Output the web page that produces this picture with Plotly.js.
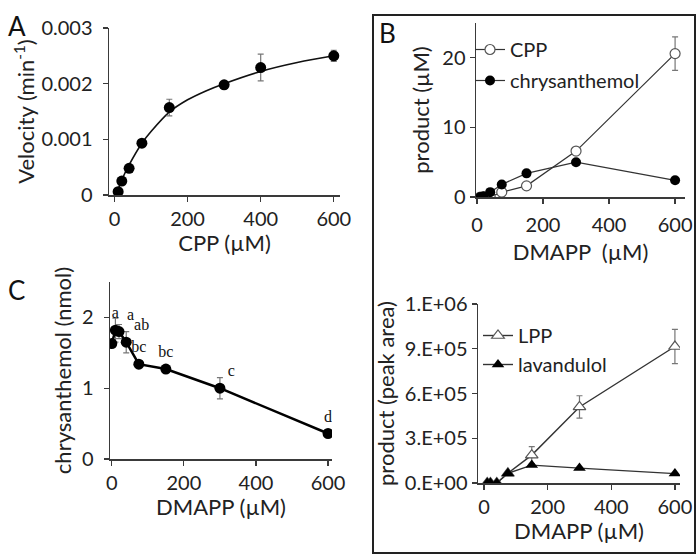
<!DOCTYPE html>
<html>
<head>
<meta charset="utf-8">
<script src="https://cdn.plot.ly/plotly-3.0.1.min.js"></script>
<style>html,body{margin:0;padding:0;background:#fff}#chart{width:700px;height:556px}</style>
</head>
<body>
<div id="chart"></div>
<script>
// ---- Panel A: velocity vs CPP ----
const cppConc = [10, 20, 40, 75, 150, 300, 400, 600];
const velocity = [0.00006, 0.00025, 0.00048, 0.00093, 0.00157, 0.00198, 0.00229, 0.0025];
const velocityErr = [0, 0, 0, 0, 0.00015, 0, 0.00024, 0.0001];
const fitConc = [10, 20, 40, 75, 100, 150, 200, 250, 300, 400, 500, 600];
const fitVelocity = [0.0001, 0.00027, 0.00054, 0.00093, 0.00114, 0.00149, 0.00171, 0.00187, 0.002, 0.00222, 0.00238, 0.0025];

// ---- Panel B: products vs DMAPP ----
const dmappB = [10, 20, 40, 75, 150, 300, 600];
const cppProduct = [0, 0, 0, 0.7, 1.6, 6.6, 20.6];
const cppErr = [0, 0, 0, 0, 0, 0, 2.4];
const chrysProduct = [0, 0.1, 0.7, 1.8, 3.4, 5.0, 2.4];

// ---- Panel C: chrysanthemol vs DMAPP ----
const dmappC = [0, 10, 20, 40, 75, 150, 300, 600];
const chrysNmol = [1.63, 1.82, 1.8, 1.65, 1.34, 1.27, 1.0, 0.36];
const chrysNmolErr = [0, 0.17, 0.1, 0.15, 0.03, 0.03, 0.15, 0.03];
const sigLetters = ['ab', 'a', 'a', 'ab', 'bc', 'bc', 'c', 'd'];

// ---- Panel D: LPP / lavandulol vs DMAPP ----
const dmappD = [10, 20, 40, 75, 150, 300, 600];
const lppArea = [0, 0, 0, 65000, 187000, 510000, 915000];
const lppErr = [0, 0, 0, 0, 57000, 75000, 115000];
const lavArea = [0, 0, 0, 65000, 120000, 100000, 63000];
const areaTickVals = [0, 300000, 600000, 900000, 1200000];
const areaTickText = ['0.E+00', '3.E+05', '6.E+05', '9.E+05', '1.E+06'];

const FONT = 'Lato, "Open Sans", sans-serif';
const AX = '#3a3a3a';
const TXT = '#222';

function axisBase(extra) {
  return Object.assign({
    showline: true, linecolor: AX, linewidth: 1.5,
    ticks: 'outside', ticklen: 5, tickwidth: 1.2, tickcolor: AX,
    showgrid: false, zeroline: false,
    tickfont: {family: FONT, size: 20, color: TXT},
    fixedrange: true
  }, extra);
}
const titleFont = {family: FONT, size: 22, color: TXT};

const errStyle = {type: 'data', visible: true, color: '#777', thickness: 1.2, width: 3};

const traces = [
  // A
  {x: fitConc, y: fitVelocity, xaxis: 'x', yaxis: 'y', mode: 'lines', line: {color: '#111', width: 1.6, shape: 'spline'}, showlegend: false, hoverinfo: 'skip'},
  {x: cppConc, y: velocity, xaxis: 'x', yaxis: 'y', mode: 'markers', marker: {color: '#000', size: 11}, error_y: Object.assign({array: velocityErr}, errStyle), showlegend: false},
  // B
  {x: dmappB, y: cppProduct, xaxis: 'x2', yaxis: 'y2', name: 'CPP', mode: 'lines+markers', legend: 'legend', legendgroup: 'b1',
   line: {color: '#333', width: 1.2}, marker: {symbol: 'circle', color: '#fff', size: 10, line: {color: '#555', width: 1.2}},
   error_y: Object.assign({array: cppErr}, errStyle)},
  {x: dmappB, y: chrysProduct, xaxis: 'x2', yaxis: 'y2', name: 'chrysanthemol', mode: 'lines+markers', legend: 'legend', legendgroup: 'b2',
   line: {color: '#333', width: 1.2}, marker: {symbol: 'circle', color: '#000', size: 10}},
  // C
  {x: dmappC, y: chrysNmol, xaxis: 'x3', yaxis: 'y3', mode: 'lines+markers+text', text: sigLetters,
   textposition: ['middle left', 'top center', 'top right', 'top right', 'top center', 'top center', 'top right', 'top center'],
   textfont: {family: '"Liberation Serif", "Times New Roman", serif', size: 16, color: '#111'},
   line: {color: '#000', width: 2.5}, marker: {color: '#000', size: 11},
   error_y: Object.assign({array: chrysNmolErr}, errStyle), showlegend: false},
  // D
  {x: dmappD, y: lppArea, xaxis: 'x4', yaxis: 'y4', name: 'LPP', mode: 'lines+markers', legend: 'legend2', legendgroup: 'd1',
   line: {color: '#333', width: 1.4}, marker: {symbol: 'triangle-up', color: '#fff', size: 11, line: {color: '#555', width: 1.2}},
   error_y: Object.assign({array: lppErr}, errStyle)},
  {x: dmappD, y: lavArea, xaxis: 'x4', yaxis: 'y4', name: 'lavandulol', mode: 'lines+markers', legend: 'legend2', legendgroup: 'd2',
   line: {color: '#333', width: 1.4}, marker: {symbol: 'triangle-up', color: '#000', size: 11}}
];

const W = 700, H = 556;
const px = v => v / W;
const py = v => 1 - v / H;

const layout = {
  width: W, height: H,
  margin: {l: 0, r: 0, t: 0, b: 0},
  paper_bgcolor: '#fff', plot_bgcolor: 'rgba(0,0,0,0)',
  font: {family: FONT, color: TXT},
  // A
  xaxis: axisBase({domain: [px(109), px(340)], range: [-15, 617], tickvals: [0, 200, 400, 600], anchor: 'y',
    title: {text: 'CPP (µM)', font: titleFont, standoff: 2}}),
  yaxis: axisBase({domain: [py(195), py(28)], range: [0, 0.003], dtick: 0.001, anchor: 'x', ticklabelstandoff: 6,
    title: {text: 'Velocity (min<sup>-1</sup>)', font: titleFont, standoff: 0}}),
  // B
  xaxis2: axisBase({domain: [px(476), px(685)], range: [-3, 630], tickvals: [0, 200, 400, 600], anchor: 'y2', ticklabelstandoff: 4,
    title: {text: 'DMAPP  (µM)', font: titleFont, standoff: 10}}),
  yaxis2: axisBase({domain: [py(197), py(23)], range: [0, 25], dtick: 10, anchor: 'x2',
    title: {text: 'product (µM)', font: titleFont, standoff: 6}}),
  // C
  xaxis3: axisBase({domain: [px(110), px(332)], range: [-5, 611], tickvals: [0, 200, 400, 600], anchor: 'y3',
    title: {text: 'DMAPP (µM)', font: titleFont, standoff: 4}}),
  yaxis3: axisBase({domain: [py(459), py(282)], range: [0, 2.5], dtick: 1, anchor: 'x3', ticklabelstandoff: 6,
    title: {text: 'chrysanthemol (nmol)', font: titleFont, standoff: 4}}),
  // D
  xaxis4: axisBase({domain: [px(478), px(680)], range: [-19, 616], tickvals: [0, 200, 400, 600], anchor: 'y4',
    title: {text: 'DMAPP (µM)', font: titleFont, standoff: 2}}),
  yaxis4: axisBase({domain: [py(483), py(304)], range: [0, 1200000], tickvals: areaTickVals, ticktext: areaTickText, anchor: 'x4',
    title: {text: 'product (peak area)', font: titleFont, standoff: 4}}),
  legend: {x: px(470), y: py(30), xanchor: 'left', yanchor: 'top', bgcolor: 'rgba(0,0,0,0)', traceorder: 'grouped', tracegroupgap: 2,
    font: {family: FONT, size: 20, color: TXT}, itemwidth: 30},
  legend2: {x: px(478), y: py(316), xanchor: 'left', yanchor: 'top', bgcolor: 'rgba(0,0,0,0)', traceorder: 'grouped', tracegroupgap: 0,
    font: {family: FONT, size: 20, color: TXT}, itemwidth: 30},
  shapes: [
    {type: 'rect', xref: 'paper', yref: 'paper', x0: px(373), x1: px(695), y0: py(553), y1: py(15), line: {color: '#222', width: 2}}
  ],
  annotations: [
    {text: 'A', xref: 'paper', yref: 'paper', x: px(17), y: py(26), xanchor: 'center', yanchor: 'middle', showarrow: false, font: {family: FONT, size: 26, color: '#111'}},
    {text: 'B', xref: 'paper', yref: 'paper', x: px(387), y: py(33), xanchor: 'center', yanchor: 'middle', showarrow: false, font: {family: FONT, size: 26, color: '#111'}},
    {text: 'C', xref: 'paper', yref: 'paper', x: px(16), y: py(290), xanchor: 'center', yanchor: 'middle', showarrow: false, font: {family: FONT, size: 26, color: '#111'}}
  ],
  showlegend: true
};

Plotly.newPlot('chart', traces, layout, {displayModeBar: false, staticPlot: true});
</script>
</body>
</html>
